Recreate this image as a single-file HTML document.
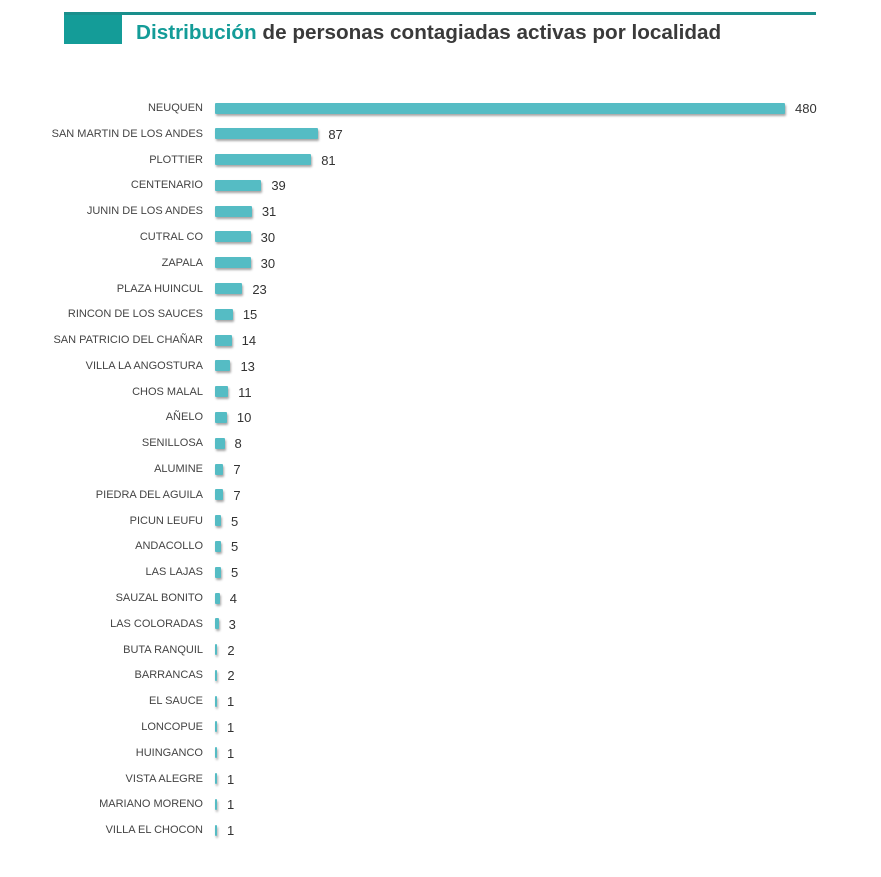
<!DOCTYPE html>
<html><head><meta charset="utf-8"><style>
body{margin:0;background:#fff;width:881px;height:877px;position:relative;overflow:hidden;font-family:"Liberation Sans","DejaVu Sans",sans-serif}
.hdr{position:absolute;left:64px;top:12px;width:58px;height:32px;background:#149c98}
.line{position:absolute;left:64px;top:12px;width:752px;height:3px;background:#1a8f8c}
.title{position:absolute;left:136px;top:21px;font-size:20.7px;font-weight:bold;color:#3a3a3a;white-space:nowrap}
.title span{color:#149c98}
.lab{position:absolute;right:678px;font-size:11px;color:#444;white-space:nowrap;line-height:14px}
.bar{position:absolute;left:215px;height:11px;background:#55bcc4;box-shadow:1px 2px 2px rgba(0,0,0,0.35);border-radius:1px}
.val{position:absolute;font-size:13px;color:#333;line-height:14px}
</style></head><body>
<div class="hdr"></div><div class="line"></div>
<div class="title"><span>Distribución</span> de personas contagiadas activas por localidad</div>
<div id="c"></div>
<script>
const d=[["NEUQUEN",480],["SAN MARTIN DE LOS ANDES",87],["PLOTTIER",81],["CENTENARIO",39],["JUNIN DE LOS ANDES",31],["CUTRAL CO",30],["ZAPALA",30],["PLAZA HUINCUL",23],["RINCON DE LOS SAUCES",15],["SAN PATRICIO DEL CHAÑAR",14],["VILLA LA ANGOSTURA",13],["CHOS MALAL",11],["AÑELO",10],["SENILLOSA",8],["ALUMINE",7],["PIEDRA DEL AGUILA",7],["PICUN LEUFU",5],["ANDACOLLO",5],["LAS LAJAS",5],["SAUZAL BONITO",4],["LAS COLORADAS",3],["BUTA RANQUIL",2],["BARRANCAS",2],["EL SAUCE",1],["LONCOPUE",1],["HUINGANCO",1],["VISTA ALEGRE",1],["MARIANO MORENO",1],["VILLA EL CHOCON",1]];
let h="";d.forEach((r,i)=>{const y=108+i*25.79;const w=Math.max(2,r[1]*1.1875);
h+=`<div class="lab" style="top:${y-7}px">${r[0]}</div><div class="bar" style="top:${y-5.5}px;width:${w}px"></div><div class="val" style="top:${y-6}px;left:${215+w+10}px">${r[1]}</div>`;});
document.getElementById("c").innerHTML=h;
</script>
</body></html>
